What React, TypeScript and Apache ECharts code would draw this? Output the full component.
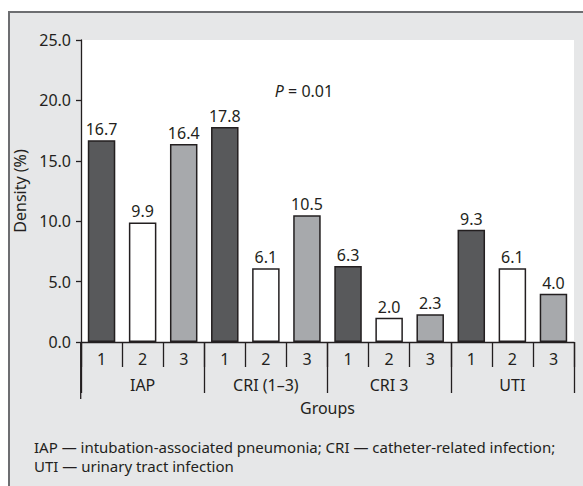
import React, { useEffect, useRef } from "react";
import * as echarts from "echarts";

const groups = ["IAP", "CRI (1–3)", "CRI 3", "UTI"];
const subgroups = ["1", "2", "3"];
const iapValues = [16.7, 9.9, 16.4];
const criAllValues = [17.8, 6.1, 10.5];
const cri3Values = [6.3, 2.0, 2.3];
const utiValues = [9.3, 6.1, 4.0];
const subgroupColors = ["#58595b", "#ffffff", "#a7a9ac"];
const yMin = 0;
const yMax = 25;
const yInterval = 5;
const pText = "0.01";
const footnote = [
  "IAP — intubation-associated pneumonia; CRI — catheter-related infection;",
  "UTI — urinary tract infection",
];

const FONT = "Noto Sans";
const INK = "#231f20";

export default function App() {
  const ref = useRef<HTMLDivElement>(null);

  useEffect(() => {
    if (!ref.current) return;
    const chart = echarts.init(ref.current, undefined, { renderer: "svg" });
    const allValues = [iapValues, criAllValues, cri3Values, utiValues];
    const cats: string[] = [];
    const data: any[] = [];
    allValues.forEach((vals) => {
      vals.forEach((v, i) => {
        cats.push(subgroups[i]);
        data.push({ value: v, itemStyle: { color: subgroupColors[i] } });
      });
    });

    chart.setOption({
      animation: false,
      textStyle: { fontFamily: FONT, color: INK },
      grid: {
        left: 81,
        right: 9,
        top: 40,
        bottom: 144,
        show: true,
        backgroundColor: "#ffffff",
        borderWidth: 0,
      },
      xAxis: [
        {
          type: "category",
          data: cats,
          position: "bottom",
          axisLine: { show: true, lineStyle: { color: INK, width: 1.3 } },
          axisTick: { show: true, interval: 0, length: 25, lineStyle: { color: INK, width: 1.3 } },
          axisLabel: { interval: 0, margin: 9, fontSize: 16, color: INK, fontFamily: FONT },
          splitLine: { show: false },
        },
        {
          type: "category",
          data: groups,
          position: "bottom",
          axisLine: { show: false },
          axisTick: { show: true, interval: 0, length: 51, lineStyle: { color: INK, width: 1.3 } },
          axisLabel: { interval: 0, margin: 35, fontSize: 16, color: INK, fontFamily: FONT },
          splitLine: { show: false },
          name: "Groups",
          nameLocation: "middle",
          nameGap: 58,
          nameTextStyle: { fontSize: 16, color: INK, fontFamily: FONT },
        },
      ],
      yAxis: {
        type: "value",
        min: yMin,
        max: yMax,
        interval: yInterval,
        axisLine: { show: true, lineStyle: { color: INK, width: 1.3 } },
        axisTick: { show: true, length: 5, lineStyle: { color: INK, width: 1.3 } },
        axisLabel: {
          margin: 10,
          fontSize: 16,
          color: INK,
          fontFamily: FONT,
          formatter: (v: number) => v.toFixed(1),
        },
        splitLine: { show: false },
        name: "Density (%)",
        nameLocation: "middle",
        nameGap: 40,
        nameTextStyle: { fontSize: 16, color: INK, fontFamily: FONT },
      },
      series: [
        {
          type: "bar",
          xAxisIndex: 0,
          data,
          barWidth: 27.5,
          itemStyle: { borderColor: INK, borderWidth: 1.5 },
          label: {
            show: true,
            position: "top",
            distance: 3,
            fontSize: 16,
            color: INK,
            fontFamily: FONT,
            formatter: (p: any) => Number(p.value).toFixed(1),
          },
        },
      ],
      graphic: [
        {
          type: "line",
          shape: { x1: 80.7, y1: 342, x2: 80.7, y2: 399 },
          style: { stroke: INK, lineWidth: 1.3 },
          z: 10,
        },
        {
          type: "text",
          x: 304,
          y: 91,
          style: {
            text: "{i|P} = " + pText,
            fontFamily: FONT,
            fontSize: 16,
            fill: INK,
            align: "center",
            verticalAlign: "middle",
            rich: {
              i: { fontStyle: "italic", fontSize: 16, fontFamily: FONT, fill: INK },
            },
          },
        },
        {
          type: "text",
          x: 34,
          y: 437,
          style: {
            text: footnote.join("\n"),
            fontFamily: FONT,
            fontSize: 15,
            lineHeight: 19,
            fill: INK,
            align: "left",
            verticalAlign: "top",
          },
        },
      ],
    });
    return () => chart.dispose();
  }, []);

  return (
    <div
      style={{
        position: "fixed",
        left: 0,
        top: 0,
        width: 583,
        height: 486,
        background: "#ffffff",
        overflow: "hidden",
      }}
    >
      <div
        style={{
          position: "absolute",
          left: 8,
          top: 11,
          width: 620,
          height: 520,
          background: "#e6e7e8",
          border: "2px solid #6d6e71",
        }}
      />
      <div
        ref={ref}
        style={{ position: "absolute", left: 0, top: 0, width: 583, height: 486 }}
      />
    </div>
  );
}
